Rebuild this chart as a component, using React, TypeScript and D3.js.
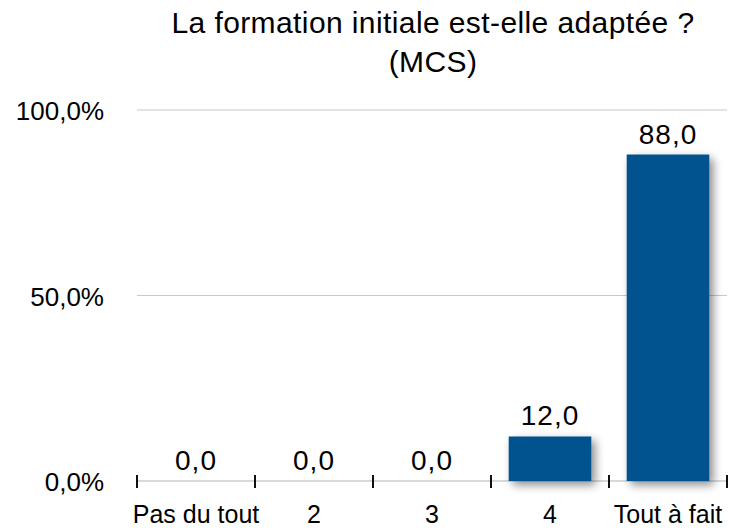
import React from "react";
import * as d3 from "d3";

const categories = ["Pas du tout", "2", "3", "4", "Tout à fait"];
const values = [0, 0, 0, 12, 88];
const yTicks = [0, 50, 100];
const titleLines = ["La formation initiale est-elle adaptée ?", "(MCS)"];

const W = 729;
const H = 528;
const margin = { left: 137, right: 2, top: 110, bottom: 47 };

export default function App() {
  const xEdge = d3
    .scaleLinear()
    .domain([0, categories.length])
    .range([margin.left, W - margin.right]);
  const y = d3
    .scaleLinear()
    .domain([0, 100])
    .range([H - margin.bottom, margin.top]);
  const fmt = (v: number) => v.toFixed(1).replace(".", ",");
  const font = "'Liberation Sans', Arial, Helvetica, sans-serif";
  const step = (W - margin.right - margin.left) / categories.length;
  const barW = step * 0.7;

  return (
    <svg
      width={W}
      height={H}
      style={{ position: "absolute", left: 0, top: 0, background: "#fff" }}
      fontFamily={font}
    >
      <defs>
        <filter id="shadow" x="-30%" y="-30%" width="160%" height="160%">
          <feGaussianBlur in="SourceAlpha" stdDeviation="5" />
          <feOffset dx="4" dy="4" result="off" />
          <feComponentTransfer>
            <feFuncA type="linear" slope="0.45" />
          </feComponentTransfer>
          <feMerge>
            <feMergeNode />
            <feMergeNode in="SourceGraphic" />
          </feMerge>
        </filter>
      </defs>
      {titleLines.map((t, i) => (
        <text
          key={i}
          x={433}
          y={33 + i * 39}
          textAnchor="middle"
          fontSize={30}
          letterSpacing={0.4}
          fill="#000"
        >
          {t}
        </text>
      ))}
      {yTicks.map((t) => (
        <g key={t}>
          {t > 0 && (
            <line
              x1={margin.left}
              x2={W - margin.right}
              y1={y(t)}
              y2={y(t)}
              stroke="#c8c8c8"
              strokeWidth={1.2}
            />
          )}
          <text
            x={104}
            y={y(t) + 10}
            textAnchor="end"
            fontSize={26}
            fill="#000"
          >
            {fmt(t) + "%"}
          </text>
        </g>
      ))}
      <line
        x1={margin.left}
        x2={W - margin.right}
        y1={y(0)}
        y2={y(0)}
        stroke="#b4b4b4"
        strokeWidth={1.2}
      />
      {categories.map((c, i) => {
        const cx = xEdge(i) + step / 2;
        const v = values[i];
        return (
          <g key={c}>
            {v > 0 && (
              <rect
                x={cx - barW / 2}
                y={y(v)}
                width={barW}
                height={y(0) - y(v)}
                fill="#02528f"
                filter="url(#shadow)"
              />
            )}
            <text
              x={cx}
              y={y(v) - 11}
              textAnchor="middle"
              fontSize={28}
              letterSpacing={1}
              fill="#000"
            >
              {fmt(v)}
            </text>
            <text
              x={cx}
              y={H - 5}
              textAnchor="middle"
              fontSize={25}
              fill="#000"
            >
              {c}
            </text>
          </g>
        );
      })}
      {d3.range(categories.length + 1).map((i) => (
        <line
          key={i}
          x1={xEdge(i)}
          x2={xEdge(i)}
          y1={y(0) - 6}
          y2={y(0) + 7}
          stroke="#111"
          strokeWidth={2}
        />
      ))}
    </svg>
  );
}
